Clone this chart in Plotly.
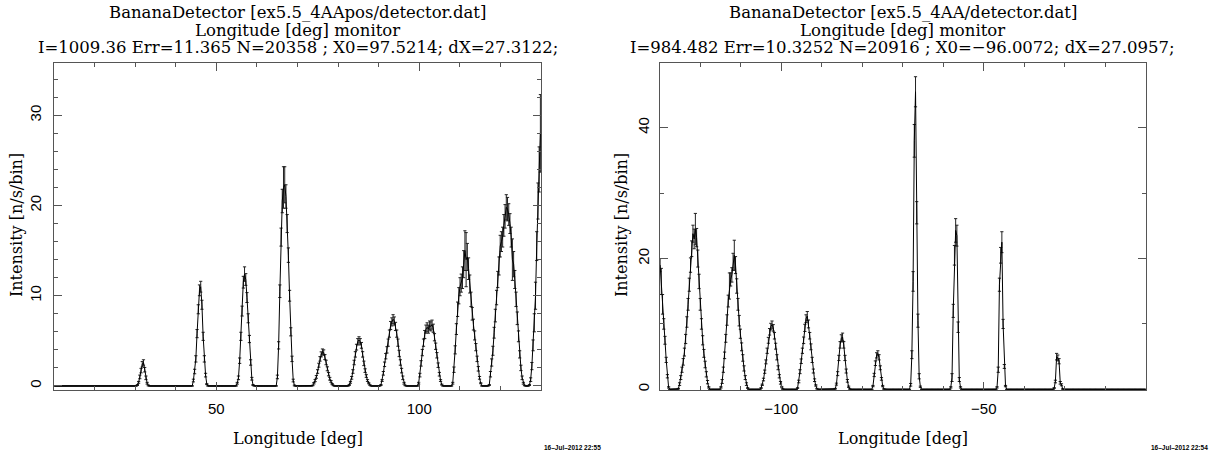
import plotly.graph_objects as go

# ---------------- data ----------------
BIN = 0.3
NBINS = 400
LEFT_XMIN = 10.0
RIGHT_XMIN = -130.0

# left panel peaks: first bin centre, intensities, errors
left_peak_x0 = [30.25, 44.05, 54.85, 64.75, 73.45, 82.45, 90.25, 99.55, 107.95, 116.95, 126.85]
left_peak_y = [
    [0, 0.1, 0.4, 1.0, 1.7, 2.4, 2.6, 1.8, 0.9, 0.3, 0.05, 0],
    [0, 0.6, 1.6, 3.0, 5.8, 8.5, 10.6, 11.0, 9.0, 5.5, 3.0, 1.2, 0.2, 0],
    [0, 0.3, 0.9, 2.8, 5.5, 8.3, 11.5, 12.4, 11.8, 9.8, 7.5, 5.2, 2.6, 0.8, 0.1, 0],
    [0, 1.0, 4.5, 10.5, 16.5, 20.5, 22.0, 22.3, 21.0, 18.0, 14.5, 10.0, 6.0, 3.0, 0.6, 0.05, 0],
    [0, 0.05, 0.3, 0.6, 1.0, 1.6, 2.3, 3.0, 3.5, 3.8, 3.7, 3.2, 2.6, 1.9, 1.3, 0.8, 0.5, 0.2, 0.05, 0],
    [0, 0.1, 0.4, 0.9, 1.6, 2.6, 3.5, 4.3, 4.9, 5.1, 4.9, 4.5, 3.5, 2.5, 1.7, 1.1, 0.6, 0.3, 0.1, 0],
    [0, 0.1, 0.6, 1.4, 2.4, 3.3, 4.0, 4.8, 5.8, 6.7, 7.1, 7.4, 7.2, 6.6, 5.8, 4.8, 3.6, 2.6, 1.7, 0.9, 0.3, 0.05, 0],
    [0, 0.3, 1.2, 2.5, 3.7, 4.8, 5.7, 6.3, 6.5, 6.3, 6.7, 6.6, 6.8, 6.4, 5.4, 4.4, 3.4, 2.3, 1.3, 0.6, 0.15, 0],
    [0, 0.3, 1.8, 4.0, 6.3, 8.5, 10.0, 11.0, 11.4, 12.0, 13.5, 15.0, 14.0, 14.3, 13.0, 11.3, 9.6, 8.0, 6.8, 5.6, 4.3, 3.0, 1.9, 0.9, 0.3, 0],
    [0, 0.1, 1.3, 2.6, 3.9, 5.9, 7.8, 9.8, 11.8, 13.3, 15.5, 16.0, 16.5, 17.8, 18.8, 19.8, 19.6, 19.0, 18.0, 16.5, 14.0, 13.5, 11.8, 9.6, 7.5, 5.5, 3.5, 2.0, 0.9, 0.3, 0.05, 0],
    [0, 0.1, 0.7, 2.2, 4.5, 7.0, 10.0, 15.5, 20.5, 24.0, 28.0],
]
left_peak_err = [
    [0, 0.05, 0.1, 0.2, 0.25, 0.3, 0.3, 0.25, 0.2, 0.1, 0.05, 0],
    [0, 0.15, 0.25, 0.35, 0.45, 0.5, 0.6, 0.6, 0.5, 0.45, 0.35, 0.2, 0.05, 0],
    [0, 0.1, 0.2, 0.3, 0.45, 0.55, 0.65, 0.8, 0.65, 0.55, 0.5, 0.4, 0.3, 0.15, 0.05, 0],
    [0, 0.2, 0.4, 0.7, 1.0, 1.3, 2.3, 2.0, 1.3, 1.0, 0.8, 0.6, 0.45, 0.3, 0.15, 0.05, 0],
    [0, 0.03, 0.08, 0.12, 0.15, 0.2, 0.22, 0.25, 0.28, 0.3, 0.3, 0.28, 0.25, 0.22, 0.18, 0.15, 0.1, 0.06, 0.03, 0],
    [0, 0.05, 0.1, 0.15, 0.2, 0.25, 0.3, 0.32, 0.35, 0.35, 0.35, 0.32, 0.3, 0.25, 0.2, 0.15, 0.1, 0.06, 0.03, 0],
    [0, 0.05, 0.1, 0.2, 0.25, 0.3, 0.35, 0.4, 0.4, 0.45, 0.45, 0.5, 0.45, 0.45, 0.4, 0.4, 0.35, 0.3, 0.25, 0.2, 0.1, 0.03, 0],
    [0, 0.1, 0.2, 0.3, 0.35, 0.4, 0.45, 0.45, 0.5, 0.45, 0.5, 0.5, 0.5, 0.45, 0.4, 0.35, 0.3, 0.25, 0.2, 0.1, 0.05, 0],
    [0, 0.1, 0.3, 0.45, 0.6, 0.8, 0.9, 1.0, 1.0, 1.2, 1.5, 2.2, 3.0, 1.5, 1.2, 1.0, 0.8, 0.7, 0.6, 0.5, 0.4, 0.3, 0.25, 0.15, 0.05, 0],
    [0, 0.05, 0.3, 0.4, 0.5, 0.6, 0.7, 0.8, 0.9, 1.0, 1.2, 1.1, 1.1, 1.2, 1.3, 1.4, 1.3, 1.2, 1.1, 1.1, 2.3, 1.4, 1.0, 0.8, 0.7, 0.6, 0.4, 0.3, 0.2, 0.1, 0.03, 0],
    [0, 0.05, 0.2, 0.4, 0.6, 1.0, 1.5, 1.6, 2.0, 2.5, 4.3],
]

# right panel peaks
right_peak_x0 = [-129.85, -125.65, -115.15, -105.25, -96.25, -86.95, -77.65, -68.35, -58.45, -47.05, -32.95]
right_peak_y = [
    [19.0, 16.5, 13.0, 10.0, 7.5, 4.5, 2.0, 0.3, 0],
    [0, 0.1, 0.8, 1.8, 3.0, 4.2, 5.7, 7.7, 10.3, 13.0, 16.0, 19.0, 21.5, 23.8, 23.0, 24.5, 23.2, 20.0, 16.5, 13.0, 10.0, 7.5, 5.5, 3.8, 2.3, 1.1, 0.3, 0],
    [0, 0.3, 1.2, 3.0, 5.2, 7.8, 10.6, 13.5, 15.8, 16.8, 17.5, 19.5, 20.5, 19.0, 15.8, 13.0, 10.5, 8.5, 6.5, 4.8, 3.2, 1.8, 0.8, 0.2, 0],
    [0, 0.2, 0.7, 1.5, 2.7, 4.2, 5.9, 7.5, 8.8, 9.6, 9.9, 9.4, 8.2, 6.6, 4.9, 3.3, 2.0, 1.0, 0.35, 0.05, 0],
    [0, 0.2, 1.2, 2.7, 4.3, 5.9, 7.5, 9.4, 10.8, 11.2, 10.0, 8.2, 6.5, 4.5, 2.8, 1.4, 0.6, 0.1, 0],
    [0, 0.1, 0.8, 2.4, 4.8, 6.8, 7.8, 8.0, 6.8, 4.8, 2.8, 1.3, 0.4, 0.05, 0],
    [0, 0.5, 2.2, 4.0, 5.2, 5.5, 4.9, 3.3, 1.6, 0.5, 0.05, 0],
    [0, 0.7, 5.3, 16.5, 38.0, 45.5, 27.0, 10.5, 2.0, 0.4, 0],
    [0, 0.3, 1.8, 12.0, 20.5, 24.3, 23.5, 9.5, 1.5, 0.3, 0],
    [0, 0.3, 3.0, 16.0, 20.5, 22.5, 10.0, 3.5, 0.5, 0],
    [0, 0.2, 1.2, 5.0, 4.8, 4.3, 1.0, 0.7, 0.05, 0],
]
right_peak_err = [
    [1.0, 2.0, 1.5, 0.8, 0.6, 0.4, 0.25, 0.1, 0],
    [0, 0.05, 0.2, 0.3, 0.4, 0.5, 0.6, 0.7, 0.8, 0.9, 1.0, 1.1, 1.2, 1.3, 1.5, 2.4, 1.4, 1.3, 1.1, 0.9, 0.8, 0.7, 0.6, 0.5, 0.4, 0.25, 0.1, 0],
    [0, 0.1, 0.3, 0.4, 0.5, 0.6, 0.8, 0.9, 2.0, 1.0, 1.1, 1.3, 2.3, 1.3, 1.1, 0.9, 0.8, 0.7, 0.6, 0.5, 0.4, 0.3, 0.2, 0.05, 0],
    [0, 0.05, 0.1, 0.2, 0.25, 0.3, 0.4, 0.45, 0.5, 0.5, 0.55, 0.5, 0.5, 0.45, 0.4, 0.3, 0.25, 0.2, 0.1, 0.03, 0],
    [0, 0.05, 0.2, 0.3, 0.35, 0.4, 0.5, 0.55, 0.6, 0.7, 0.6, 0.5, 0.45, 0.4, 0.3, 0.2, 0.1, 0.05, 0],
    [0, 0.05, 0.15, 0.3, 0.4, 0.5, 0.55, 0.6, 0.5, 0.4, 0.3, 0.2, 0.1, 0.03, 0],
    [0, 0.1, 0.25, 0.35, 0.4, 0.4, 0.4, 0.3, 0.2, 0.1, 0.03, 0],
    [0, 0.2, 0.6, 1.5, 2.5, 2.3, 1.7, 1.0, 0.4, 0.1, 0],
    [0, 0.1, 0.6, 1.0, 1.5, 1.8, 1.6, 0.8, 0.3, 0.1, 0],
    [0, 0.1, 0.4, 1.0, 1.2, 1.6, 0.7, 0.3, 0.1, 0],
    [0, 0.05, 0.2, 0.5, 0.45, 0.4, 0.2, 0.15, 0.02, 0],
]

left_title = ["BananaDetector [ex5.5_4AApos/detector.dat]",
              "Longitude [deg] monitor",
              "I=1009.36 Err=11.365 N=20358 ; X0=97.5214; dX=27.3122;"]
right_title = ["BananaDetector [ex5.5_4AA/detector.dat]",
               "Longitude [deg] monitor",
               "I=984.482 Err=10.3252 N=20916 ; X0=\u221296.0072; dX=27.0957;"]
left_stamp = "16\u2013Jul\u20132012 22:55"
right_stamp = "16\u2013Jul\u20132012 22:54"
x_label = "Longitude [deg]"
y_label = "Intensity [n/s/bin]"


def build(xmin, starts, vals, errs):
    xs = [round(xmin + BIN * (k + 0.5), 4) for k in range(NBINS)]
    ys = [0.0] * NBINS
    es = [None] * NBINS
    for x0, v, e in zip(starts, vals, errs):
        k0 = int(round((x0 - xmin) / BIN - 0.5))
        for i, (vi, ei) in enumerate(zip(v, e)):
            ys[k0 + i] = vi
            es[k0 + i] = ei if vi > 0 else None
    return xs, ys, es


lx, ly, le = build(LEFT_XMIN, left_peak_x0, left_peak_y, left_peak_err)
rx, ry, re_ = build(RIGHT_XMIN, right_peak_x0, right_peak_y, right_peak_err)

W, H = 1216, 457
SERIF = "DejaVu Serif"
SANS = "Liberation Sans"
AX = "#555555"


def px(v):
    return v / W


def py(v):
    return 1 - v / H


fig = go.Figure()
for xs, ys, es, xa, ya in [(lx, ly, le, "x", "y"), (rx, ry, re_, "x2", "y2")]:
    fig.add_trace(go.Scatter(
        x=xs, y=ys, mode="lines", xaxis=xa, yaxis=ya,
        line=dict(color="#000000", width=1),
        error_y=dict(type="data", array=es, visible=True, width=1.6,
                     thickness=1, color="#222222"),
        hoverinfo="skip", showlegend=False))

L0, L1 = 54, 541
R0, R1 = 659.5, 1146
T, B = 63, 390

common = dict(showline=True, linecolor=AX, linewidth=1, mirror="ticks",
              ticks="inside", ticklen=8, tickcolor=AX, tickwidth=1,
              showgrid=False, zeroline=False,
              tickfont=dict(family=SANS, size=15, color="#000"))

fig.update_layout(
    width=W, height=H, margin=dict(l=0, r=0, t=0, b=0),
    paper_bgcolor="white", plot_bgcolor="white", showlegend=False,
    xaxis=dict(domain=[px(L0), px(L1)], range=[10, 130], dtick=50, tick0=0,
               minor=dict(ticks="inside", ticklen=4, dtick=10, tickcolor=AX),
               anchor="y", ticklabelstandoff=5, **common),
    yaxis=dict(domain=[py(B), py(T)], range=[-0.45, 35.8], dtick=10, tick0=0,
               minor=dict(ticks="inside", ticklen=4, dtick=2, tickcolor=AX),
               anchor="x", tickangle=-90, ticklabelstandoff=6, **common),
    xaxis2=dict(domain=[px(R0), px(R1)], range=[-130, -10], dtick=50, tick0=0,
                minor=dict(ticks="inside", ticklen=4, dtick=10, tickcolor=AX),
                anchor="y2", ticklabelstandoff=5, **common),
    yaxis2=dict(domain=[py(B), py(T)], range=[-0.1, 49.9], dtick=20, tick0=0,
                minor=dict(ticks="inside", ticklen=4, dtick=10, tickcolor=AX),
                anchor="x2", tickangle=-90, ticklabelstandoff=4, **common),
)

ann = []
for cx, lines in [((L0 + L1) / 2, left_title), ((R0 + R1) / 2, right_title)]:
    for yy, t in zip([12, 30, 47], lines):
        ann.append(dict(text=t, x=px(cx), y=py(yy), xref="paper", yref="paper",
                        xanchor="center", yanchor="middle", showarrow=False,
                        font=dict(family=SERIF, size=16.5, color="#000")))
    ann.append(dict(text=x_label, x=px(cx), y=py(438), xref="paper", yref="paper",
                    xanchor="center", yanchor="middle", showarrow=False,
                    font=dict(family=SERIF, size=16, color="#000")))
for lx0 in [16, 621]:
    ann.append(dict(text=y_label, x=px(lx0), y=py(225), xref="paper", yref="paper",
                    xanchor="center", yanchor="middle", showarrow=False, textangle=-90,
                    font=dict(family=SERIF, size=16, color="#000")))
for rx0, st in [(603, left_stamp), (1210, right_stamp)]:
    ann.append(dict(text="<b>" + st + "</b>", x=px(rx0), y=py(447), xref="paper", yref="paper",
                    xanchor="right", yanchor="middle", showarrow=False,
                    font=dict(family=SANS, size=6.5, color="#000")))
fig.update_layout(annotations=ann)

fig.write_html("out.html")
